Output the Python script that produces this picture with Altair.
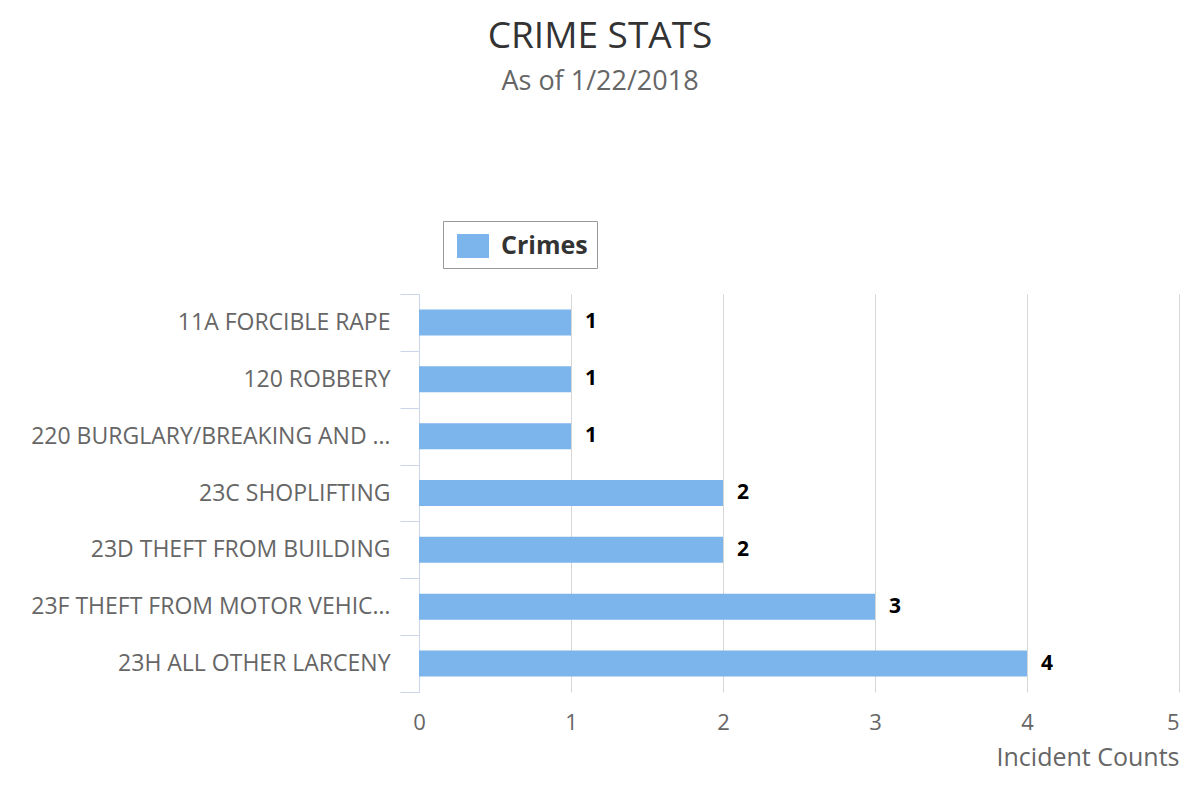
import altair as alt
import pandas as pd

categories = [
    "11A FORCIBLE RAPE",
    "120 ROBBERY",
    "220 BURGLARY/BREAKING AND …",
    "23C SHOPLIFTING",
    "23D THEFT FROM BUILDING",
    "23F THEFT FROM MOTOR VEHIC…",
    "23H ALL OTHER LARCENY",
]
counts = [1, 1, 1, 2, 2, 3, 4]
series = ["Crimes"] * len(categories)
x_ticks = [0, 1, 2, 3, 4, 5]

df = pd.DataFrame({"crime": categories, "count": counts, "series": series})

FONT = "Open Sans"

y_enc = alt.Y(
    "crime:N",
    sort=categories,
    title=None,
    scale=alt.Scale(paddingInner=0, paddingOuter=0),
    axis=alt.Axis(
        tickBand="extent",
        tickSize=19,
        tickColor="#ccd6eb",
        domainColor="#ccd6eb",
        domainWidth=1,
        labelFont=FONT,
        labelFontSize=23,
        labelColor="#666666",
        labelPadding=10,
        labelLimit=500,
        grid=False,
    ),
)

x_enc = alt.X(
    "count:Q",
    scale=alt.Scale(domain=[0, 5], nice=False),
    title="Incident Counts",
    axis=alt.Axis(
        values=x_ticks,
        format="d",
        grid=True,
        gridColor="#d6d6d6",
        gridWidth=1,
        domain=False,
        ticks=False,
        labelFlush=False,
        labelAlign={"condition": {"test": "datum.value == 5", "value": "right"}, "value": "center"},
        labelFont=FONT,
        labelFontSize=22,
        labelColor="#666666",
        labelPadding=20,
        titleFont=FONT,
        titleFontSize=25,
        titleFontWeight="normal",
        titleColor="#666666",
        titleAnchor="end",
        titlePadding=12,
    ),
)

bars = alt.Chart(df).mark_bar(height=26, color="#7cb5ec").encode(
    x=x_enc,
    y=y_enc,
    color=alt.Color(
        "series:N",
        scale=alt.Scale(domain=["Crimes"], range=["#7cb5ec"]),
        legend=alt.Legend(
            title=None,
            orient="none",
            legendX=24,
            legendY=-73,
            direction="horizontal",
            symbolType="M-1,-0.75H1V0.75H-1Z",
            symbolSize=1024,
            symbolStrokeWidth=0,
            symbolOpacity=1,
            symbolOffset=5,
            labelFont=FONT,
            labelFontSize=25,
            labelFontWeight="bold",
            labelColor="#333333",
            labelOffset=12,
            padding=9,
            strokeColor="#999999",
            fillColor="white",
            cornerRadius=0,
        ),
    ),
)

labels = alt.Chart(df).mark_text(
    align="left", baseline="middle", dx=14, font=FONT, fontSize=21,
    fontWeight="bold", color="#000000"
).encode(
    x="count:Q",
    y=alt.Y("crime:N", sort=categories),
    text="count:Q",
)

chart = alt.layer(bars, labels).properties(
    width=760,
    height=398,
    autosize=alt.AutoSizeParams(type="none"),
    padding={"left": 411, "top": 286, "right": 8, "bottom": 92},
    title=alt.TitleParams(
        text="CRIME STATS",
        subtitle="As of 1/22/2018",
        font=FONT,
        fontSize=37,
        fontWeight="normal",
        color="#333333",
        subtitleFont=FONT,
        subtitleFontSize=27,
        subtitleColor="#666666",
        subtitlePadding=13,
        anchor="middle",
        frame="group",
        dx=-199,
        offset=125,
    ),
).configure_view(stroke=None)

chart.save("out.html", embed_options={"renderer": "svg", "actions": False})
